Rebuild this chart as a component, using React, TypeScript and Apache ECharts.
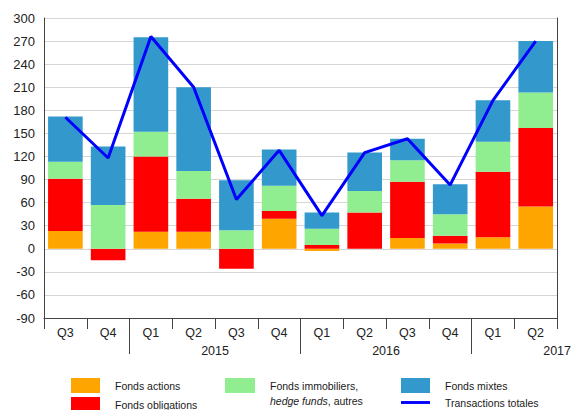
import React, { useEffect, useRef } from "react";
import * as echarts from "echarts";

const quarters = ["Q3", "Q4", "Q1", "Q2", "Q3", "Q4", "Q1", "Q2", "Q3", "Q4", "Q1", "Q2"];
const years = ["2015", "2016", "2017"];
const yearBoundaryIndex = [4, 8, 12];
const yearStartIndex = [2, 6, 10];

const fondsActions = [23, 0, 22, 22, 0, 39, -3, 0, 14, 7, 15, 55];
const fondsObligations = [68, -15, 98, 43, -26, 10, 5, 47, 73, 10, 85, 102];
const fondsImmobiliers = [22, 57, 32, 36, 24, 33, 21, 28, 28, 28, 39, 46];
const fondsMixtes = [59, 76, 123, 109, 65, 47, 21, 50, 28, 39, 54, 67];
const transactionsTotales = [171, 118, 276, 210, 64, 128, 43, 125, 143, 83, 193, 270];

const FONT = "'Liberation Sans', Arial, sans-serif";
const AXIS = "#444";

export default function App() {
  const ref = useRef<HTMLDivElement>(null);
  useEffect(() => {
    if (!ref.current) return;
    const chart = echarts.init(ref.current, null, { renderer: "svg" });
    const yearAxisData: string[] = [];
    for (let i = 0; i <= quarters.length; i++) {
      const k = yearBoundaryIndex.indexOf(i);
      yearAxisData.push(k >= 0 ? years[k] : "");
    }
    const legendText = { fontSize: 10.5, color: "#1a1a1a", fontFamily: FONT, padding: [0, 0, 0, 10] };
    const legendBase = {
      orient: "vertical",
      padding: 0,
      itemWidth: 29,
      itemHeight: 15,
      itemGap: 4,
      icon: "rect",
      selectedMode: false,
    };
    const barBase = { type: "bar", stack: "total", barCategoryGap: "19%", xAxisIndex: 0, yAxisIndex: 0 };
    chart.setOption({
      animation: false,
      textStyle: { fontFamily: FONT },
      grid: { left: 44, right: 13, top: 18, bottom: 92, containLabel: false },
      xAxis: [
        {
          type: "category",
          data: quarters,
          boundaryGap: true,
          axisLine: { show: true, onZero: false, lineStyle: { color: AXIS, width: 1 } },
          axisTick: { show: true, length: 11, interval: 0, lineStyle: { color: AXIS } },
          axisLabel: { interval: 0, fontSize: 12.5, color: "#222", margin: 8, fontFamily: FONT },
          splitLine: { show: false },
        },
        {
          type: "category",
          data: yearAxisData,
          boundaryGap: false,
          position: "bottom",
          axisLine: { show: false, onZero: false },
          axisTick: {
            show: true,
            length: 36,
            interval: (i: number) => yearStartIndex.indexOf(i) >= 0,
            lineStyle: { color: AXIS },
          },
          axisLabel: { interval: 0, fontSize: 12.5, color: "#222", margin: 26, fontFamily: FONT },
          splitLine: { show: false },
        },
      ],
      yAxis: [
        {
          type: "value",
          min: -90,
          max: 300,
          interval: 30,
          axisLine: { show: true, onZero: false, lineStyle: { color: AXIS } },
          axisTick: { show: false },
          axisLabel: { fontSize: 13, color: "#222", margin: 9, fontFamily: FONT },
          splitLine: { show: true, lineStyle: { color: "#d6d6d6", width: 1 } },
        },
        {
          type: "value",
          position: "right",
          min: -90,
          max: 300,
          interval: 30,
          axisLine: { show: true, onZero: false, lineStyle: { color: AXIS } },
          axisTick: { show: false },
          axisLabel: { show: false },
          splitLine: { show: false },
        },
      ],
      legend: [
        {
          ...legendBase,
          data: ["Fonds actions", "Fonds obligations"],
          left: 71,
          top: 378,
          height: 60,
          textStyle: legendText,
        },
        {
          ...legendBase,
          data: ["Fonds immobiliers, hedge funds, autres fonds"],
          left: 225,
          top: 348,
          height: 90,
          itemWidth: 30,
          formatter: () => "Fonds immobiliers,\n{i|hedge funds}, autres\nfonds",
          textStyle: {
            ...legendText,
            lineHeight: 15,
            padding: [30, 0, 0, 10],
            rich: { i: { fontStyle: "italic", fontSize: 10.5, lineHeight: 15, color: "#1a1a1a", fontFamily: FONT } },
          },
        },
        {
          ...legendBase,
          data: [
            "Fonds mixtes",
            { name: "Transactions totales", icon: "path://M0,0 L30,0 L30,3 L0,3 Z" },
          ],
          left: 401,
          top: 378,
          height: 60,
          textStyle: legendText,
        },
      ],
      series: [
        { ...barBase, name: "Fonds actions", data: fondsActions, itemStyle: { color: "#ffa500" } },
        { ...barBase, name: "Fonds obligations", data: fondsObligations, itemStyle: { color: "#ff0000" } },
        {
          ...barBase,
          name: "Fonds immobiliers, hedge funds, autres fonds",
          data: fondsImmobiliers,
          itemStyle: { color: "#90ee90" },
        },
        { ...barBase, name: "Fonds mixtes", data: fondsMixtes, itemStyle: { color: "#3399cc" } },
        {
          type: "line",
          name: "Transactions totales",
          data: transactionsTotales,
          xAxisIndex: 0,
          yAxisIndex: 0,
          symbol: "none",
          z: 5,
          lineStyle: { color: "#0000ff", width: 3 },
          itemStyle: { color: "#0000ff" },
        },
      ],
    });
    return () => chart.dispose();
  }, []);
  return <div ref={ref} style={{ position: "absolute", left: 0, top: 0, width: 574, height: 410 }} />;
}
